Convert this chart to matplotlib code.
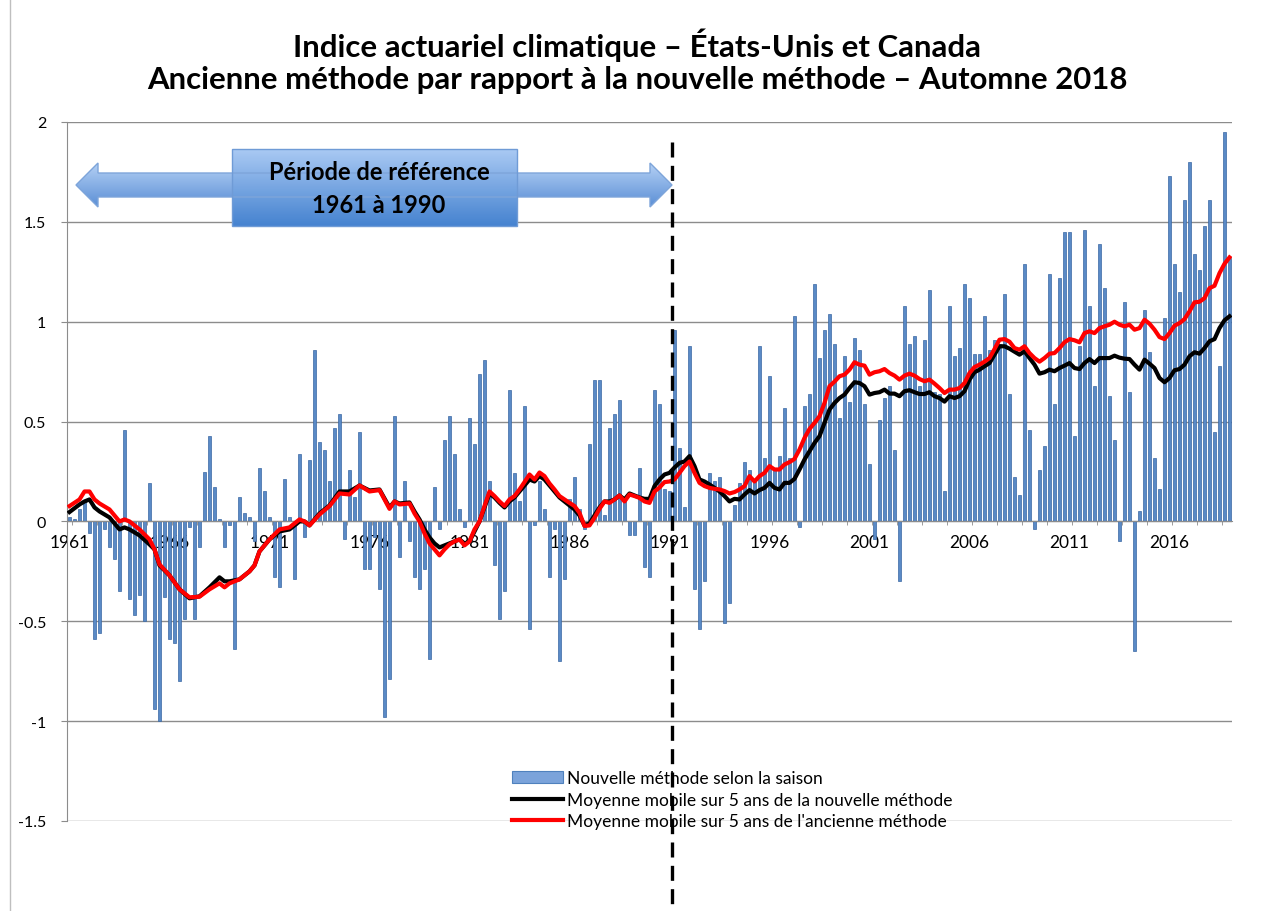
import numpy as np
import matplotlib.pyplot as plt
from matplotlib.patches import Polygon, Rectangle, Patch
from matplotlib.lines import Line2D
from matplotlib.colors import LinearSegmentedColormap

plt.rcParams['font.family'] = ['Lato', 'DejaVu Sans']

first_year = 1961

# indice saisonnier, nouvelle methode (hiver 1961 -> hiver 2019)
seasons = [
    0.02, 0.01, 0.06, 0.10, -0.06, -0.59, -0.56, -0.04, -0.13, -0.19,
    -0.35, 0.46, -0.39, -0.47, -0.37, -0.50, 0.19, -0.94, -1.00, -0.38,
    -0.59, -0.61, -0.80, -0.49, -0.03, -0.49, -0.13, 0.25, 0.43, 0.17,
    0.01, -0.13, -0.02, -0.64, 0.12, 0.04, 0.02, -0.10, 0.27, 0.15,
    0.02, -0.28, -0.33, 0.21, 0.02, -0.29, 0.34, -0.08, 0.31, 0.86,
    0.40, 0.36, 0.20, 0.47, 0.54, -0.09, 0.26, 0.12, 0.45, -0.24,
    -0.24, -0.08, -0.34, -0.98, -0.79, 0.53, -0.18, 0.20, -0.10, -0.28,
    -0.34, -0.24, -0.69, 0.17, -0.04, 0.41, 0.53, 0.34, 0.06, -0.03,
    0.52, 0.39, 0.74, 0.81, 0.20, -0.22, -0.49, -0.35, 0.66, 0.24,
    0.10, 0.58, -0.54, -0.02, 0.20, 0.06, -0.28, -0.04, -0.70, -0.29,
    0.11, 0.22, 0.06, -0.04, 0.39, 0.71, 0.71, 0.03, 0.47, 0.54,
    0.61, 0.10, -0.07, -0.07, 0.27, -0.23, -0.28, 0.66, 0.59, 0.16,
    0.15, 0.96, 0.37, 0.07, 0.88, -0.34, -0.54, -0.30, 0.24, 0.20,
    0.22, -0.51, -0.41, 0.08, 0.19, 0.30, 0.26, 0.20, 0.88, 0.32,
    0.73, 0.26, 0.33, 0.57, 0.32, 1.03, -0.03, 0.58, 0.64, 1.19,
    0.82, 0.96, 1.04, 0.89, 0.52, 0.83, 0.60, 0.92, 0.86, 0.59,
    0.29, -0.09, 0.51, 0.62, 0.68, 0.36, -0.30, 1.08, 0.89, 0.93,
    0.68, 0.91, 1.16, 0.65, 0.64, 0.15, 1.08, 0.83, 0.87, 1.19,
    1.12, 0.84, 0.84, 1.03, 0.86, 0.91, 0.89, 1.14, 0.64, 0.22,
    0.13, 1.29, 0.46, -0.04, 0.26, 0.38, 1.24, 0.59, 1.22, 1.45,
    1.45, 0.43, 0.88, 1.46, 1.08, 0.68, 1.39, 1.17, 0.63, 0.41,
    -0.10, 1.10, 0.65, -0.65, 0.05, 1.06, 0.85, 0.32, 0.16, 1.02,
    1.73, 1.29, 1.15, 1.61, 1.80, 1.34, 1.26, 1.48, 1.61, 0.45,
    0.78, 1.95, 1.32,
]

tick_years = [1961, 1966, 1971, 1976, 1981, 1986, 1991, 1996, 2001, 2006, 2011, 2016]

# moyennes mobiles 5 ans (index de saison)
ma_pos = [0, 2, 3, 4, 5, 6, 8, 10, 11, 12, 14, 16, 17, 18, 20, 22, 24, 26, 28, 30,
          31, 32, 34, 36, 37, 38, 40, 42, 44, 46, 47, 48, 50, 52, 54, 56, 58, 60, 62, 64,
          65, 66, 68, 69, 70] + list(range(71, 233))

ma_new = [
    0.047, 0.085, 0.10, 0.11, 0.07, 0.05, 0.02, -0.04, -0.03, -0.04,
    -0.07, -0.115, -0.14, -0.22, -0.27, -0.34, -0.385, -0.375, -0.33, -0.28,
    -0.30, -0.30, -0.29, -0.25, -0.22, -0.15, -0.09, -0.05, -0.04, 0.00,
    0.00, -0.02, 0.04, 0.08, 0.15, 0.15, 0.18, 0.155, 0.16, 0.07,
    0.10, 0.09, 0.095, 0.05, 0.01,
    -0.04, -0.08, -0.11, -0.13, -0.12, -0.11, -0.10, -0.09, -0.11, -0.10,
    -0.05, 0.00, 0.07, 0.14, 0.12, 0.093, 0.07, 0.10, 0.12, 0.15,
    0.18, 0.21, 0.20, 0.227, 0.21, 0.18, 0.15, 0.12, 0.10, 0.08,
    0.06, 0.03, -0.02, -0.01, 0.03, 0.07, 0.10, 0.10, 0.11, 0.13,
    0.11, 0.14, 0.13, 0.12, 0.113, 0.113, 0.177, 0.21, 0.235, 0.243,
    0.27, 0.293, 0.30, 0.327, 0.277, 0.21, 0.20, 0.185, 0.168, 0.15,
    0.127, 0.10, 0.113, 0.11, 0.135, 0.157, 0.14, 0.157, 0.168, 0.193,
    0.168, 0.16, 0.193, 0.193, 0.213, 0.26, 0.31, 0.352, 0.393, 0.427,
    0.493, 0.56, 0.593, 0.618, 0.635, 0.668, 0.697, 0.693, 0.677, 0.635,
    0.643, 0.647, 0.66, 0.64, 0.64, 0.627, 0.652, 0.657, 0.647, 0.638,
    0.638, 0.647, 0.627, 0.618, 0.60, 0.627, 0.618, 0.627, 0.652, 0.71,
    0.747, 0.76, 0.777, 0.793, 0.835, 0.877, 0.877, 0.865, 0.85, 0.835,
    0.852, 0.818, 0.785, 0.74, 0.747, 0.76, 0.752, 0.768, 0.78, 0.793,
    0.768, 0.763, 0.793, 0.813, 0.793, 0.818, 0.818, 0.818, 0.83, 0.82,
    0.815, 0.813, 0.785, 0.76, 0.81, 0.79, 0.768, 0.718, 0.697, 0.718,
    0.757, 0.763, 0.785, 0.827, 0.847, 0.84, 0.868, 0.902, 0.913, 0.968,
    1.007, 1.027,
]

ma_old = [
    0.077, 0.11, 0.15, 0.15, 0.11, 0.09, 0.06, 0.00, 0.01, 0.00,
    -0.04, -0.09, -0.14, -0.215, -0.27, -0.34, -0.38, -0.377, -0.34, -0.31,
    -0.33, -0.31, -0.29, -0.25, -0.22, -0.15, -0.09, -0.04, -0.03, 0.01,
    0.00, -0.02, 0.035, 0.077, 0.14, 0.135, 0.18, 0.15, 0.157, 0.063,
    0.10, 0.085, 0.09, 0.04, 0.00,
    -0.06, -0.11, -0.14, -0.17, -0.14, -0.115, -0.10, -0.09, -0.12, -0.10,
    -0.04, 0.00, 0.077, 0.15, 0.127, 0.10, 0.077, 0.11, 0.127, 0.16,
    0.197, 0.235, 0.21, 0.245, 0.227, 0.19, 0.16, 0.127, 0.11, 0.093,
    0.077, 0.043, -0.023, -0.02, 0.018, 0.063, 0.10, 0.093, 0.11, 0.13,
    0.10, 0.135, 0.127, 0.118, 0.10, 0.093, 0.15, 0.17, 0.197, 0.20,
    0.21, 0.243, 0.277, 0.30, 0.243, 0.193, 0.177, 0.168, 0.163, 0.16,
    0.152, 0.14, 0.147, 0.16, 0.177, 0.227, 0.20, 0.227, 0.243, 0.277,
    0.26, 0.26, 0.285, 0.297, 0.313, 0.36, 0.418, 0.463, 0.493, 0.527,
    0.593, 0.677, 0.70, 0.727, 0.735, 0.76, 0.797, 0.785, 0.78, 0.735,
    0.747, 0.752, 0.763, 0.743, 0.73, 0.71, 0.73, 0.74, 0.73, 0.713,
    0.702, 0.71, 0.69, 0.668, 0.643, 0.66, 0.66, 0.668, 0.693, 0.743,
    0.773, 0.785, 0.80, 0.818, 0.863, 0.91, 0.913, 0.90, 0.868, 0.86,
    0.877, 0.843, 0.818, 0.80, 0.818, 0.84, 0.843, 0.868, 0.897, 0.913,
    0.907, 0.897, 0.943, 0.952, 0.943, 0.968, 0.977, 0.985, 1.00, 0.985,
    0.977, 0.985, 0.96, 0.968, 1.01, 0.99, 0.96, 0.923, 0.913, 0.943,
    0.98, 0.993, 1.013, 1.052, 1.097, 1.10, 1.118, 1.168, 1.18, 1.243,
    1.29, 1.322,
]

ref_end = 120.5   # fin de la periode de reference (hiver 1991)

W, H = 1267, 912
fig = plt.figure(figsize=(W / 100, H / 100), dpi=100)
ax = fig.add_axes([67 / W, 1 - 822 / H, 1165 / W, 699 / H])

x = np.arange(len(seasons))
ax.bar(x, seasons, width=0.64, color='#5A8AC6', edgecolor='#3A67A3', linewidth=0.5, zorder=2)
ax.plot(ma_pos, ma_new, color='black', lw=3, zorder=3)
ax.plot(ma_pos, ma_old, color='red', lw=3, zorder=4)

ax.set_xlim(-0.5, len(seasons) - 0.5)
ax.set_ylim(-1.5, 2)
ax.set_yticks(np.arange(-1.5, 2.01, 0.5))
ax.set_yticklabels(['-1.5', '-1', '-0.5', '0', '0.5', '1', '1.5', '2'])
ax.yaxis.grid(True, color='#8c8c8c', lw=1)
ax.set_axisbelow(True)
for s in ['top', 'right']:
    ax.spines[s].set_visible(False)
ax.spines['left'].set_color('#8c8c8c')
ax.spines['bottom'].set_position(('data', 0))
ax.spines['bottom'].set_color('#8c8c8c')

ax.set_xticks([(y - first_year) * 4 for y in tick_years])
ax.set_xticklabels([str(y) for y in tick_years])
ax.set_xticks(np.arange(0.5, len(seasons), 5), minor=True)
ax.tick_params(axis='x', which='major', length=0, pad=9, labelsize=12.5)
ax.tick_params(axis='x', which='minor', length=3, color='#8c8c8c', direction='out')
ax.tick_params(axis='y', length=4, color='#8c8c8c', pad=11, labelsize=11.5)

# ligne pointillee 1991
ax.plot([ref_end, ref_end], [1.9, -1.92], color='black', lw=2.4, ls=(0, (4.5, 2.5)),
        clip_on=False, zorder=8)

handles = [
    Patch(facecolor='#7BA3DA', edgecolor='#4F81BD', lw=0.8),
    Line2D([], [], color='black', lw=3),
    Line2D([], [], color='red', lw=3),
]
labels = [
    'Nouvelle méthode selon la saison',
    'Moyenne mobile sur 5 ans de la nouvelle méthode',
    "Moyenne mobile sur 5 ans de l'ancienne méthode",
]
leg = ax.legend(handles, labels, loc='upper left', bbox_to_anchor=(512 / W, 1 - 771 / H),
                bbox_transform=fig.transFigure, frameon=False, fontsize=12.5,
                handlelength=2.95, handletextpad=0.2, labelspacing=0.33, borderpad=0,
                borderaxespad=0)
leg.set_zorder(5)

fig.text(0.503, 1 - 45 / H, 'Indice actuariel climatique – États-Unis et Canada',
         ha='center', va='center', fontsize=22.4, fontweight='bold')
fig.text(0.503, 1 - 80 / H, 'Ancienne méthode par rapport à la nouvelle méthode – Automne 2018',
         ha='center', va='center', fontsize=22.4, fontweight='bold')

# fleche "periode de reference", en pixels
ov = fig.add_axes([0, 0, 1, 1], zorder=3)
ov.set_xlim(0, W)
ov.set_ylim(H, 0)
ov.axis('off')

cy, hh, sh, hl = 186, 22, 12, 22
x0, x1 = 76, 672
arrow_pts = [(x0, cy), (x0 + hl, cy - hh), (x0 + hl, cy - sh), (x1 - hl, cy - sh),
             (x1 - hl, cy - hh), (x1, cy), (x1 - hl, cy + hh), (x1 - hl, cy + sh),
             (x0 + hl, cy + sh), (x0 + hl, cy + hh)]
arrow = Polygon(arrow_pts, closed=True, facecolor='none', edgecolor='#7EA5DA', lw=1)
ov.add_patch(arrow)
grad = np.linspace(0, 1, 64).reshape(-1, 1)
cmap = LinearSegmentedColormap.from_list('b', ['#B4D0F4', '#5B8FD6'])
im = ov.imshow(grad, extent=(x0, x1, cy + hh, cy - hh), cmap=cmap, aspect='auto', origin='upper')
im.set_clip_path(arrow)

box = Rectangle((232, 150), 285, 77, facecolor='none', edgecolor='#6F9BD6', lw=1)
ov.add_patch(box)
cmap2 = LinearSegmentedColormap.from_list('b2', ['#A9C9F3', '#4683D0'])
im2 = ov.imshow(grad, extent=(232, 517, 227, 150), cmap=cmap2, aspect='auto', origin='upper')
im2.set_clip_path(box)
ov.text(379, 173, 'Période de référence', ha='center', va='center', fontsize=17,
        fontweight='bold')
ov.text(379, 206, '1961 à 1990', ha='center', va='center', fontsize=17, fontweight='bold')
ov.set_xlim(0, W)
ov.set_ylim(H, 0)

fig.add_artist(Line2D([10 / W, 10 / W], [0, 1], color='#bfbfbf', lw=1, transform=fig.transFigure))

fig.savefig('out.png', dpi=100)
